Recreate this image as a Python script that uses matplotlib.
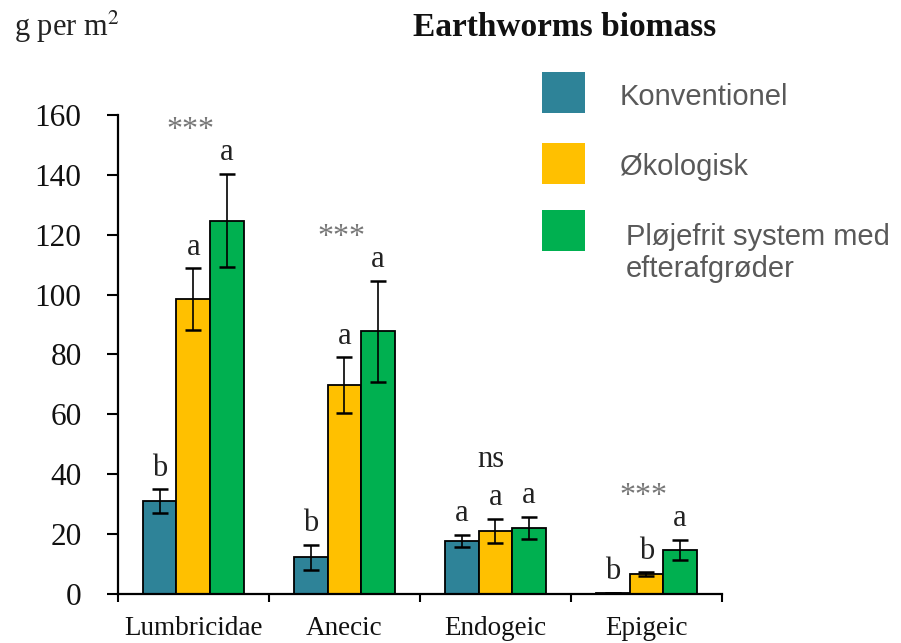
import numpy as np
import matplotlib.pyplot as plt
from matplotlib.patches import Rectangle

CATEGORIES = ['Lumbricidae', 'Anecic', 'Endogeic', 'Epigeic']
SERIES = ['Konventionel', 'Økologisk', 'Pløjefrit system med\nefterafgrøder']
COLORS = ['#2E8398', '#FFC000', '#00B050']

KONV = [31.0, 12.3, 17.8, 0.4]
KONV_ERR = [4.0, 4.2, 2.0, 0.0]
OKO = [98.5, 69.8, 21.1, 6.6]
OKO_ERR = [10.3, 9.2, 4.1, 0.7]
PLO = [124.7, 87.8, 22.1, 14.7]
PLO_ERR = [15.6, 16.9, 3.7, 3.4]

KONV_LETTERS = ['b', 'b', 'a', 'b']
OKO_LETTERS = ['a', 'a', 'a', 'b']
PLO_LETTERS = ['a', 'a', 'a', 'a']
SIGNIF = ['***', '***', 'ns', '***']

YTICKS = [0, 20, 40, 60, 80, 100, 120, 140, 160]

SERIF = ['Liberation Serif', 'DejaVu Serif']
SANS = ['Liberation Sans', 'DejaVu Sans']

values = [KONV, OKO, PLO]
errors = [KONV_ERR, OKO_ERR, PLO_ERR]
letters = [KONV_LETTERS, OKO_LETTERS, PLO_LETTERS]

fig = plt.figure(figsize=(9.01, 6.43), dpi=100)
ax = fig.add_axes([0.1306, 0.0762, 0.6707, 0.745])

x = np.arange(len(CATEGORIES))
w = 0.222
offsets = [-w, 0, w]

for vals, errs, labs, col, off in zip(values, errors, letters, COLORS, offsets):
    ax.bar(x + off, vals, w, color=col, edgecolor='black', linewidth=1.3, zorder=2)
    ax.errorbar(x + off, vals, yerr=errs, fmt='none', ecolor='black',
                elinewidth=1.2, capsize=5.5, capthick=1.8, zorder=3)
    for xi, v, e, lab in zip(x + off, vals, errs, labs):
        ax.text(xi, v + e + 4.5, lab, ha='center', va='baseline',
                fontsize=22, family=SERIF, color='#222222')

tops = np.max([np.array(v) + np.array(e) for v, e in zip(values, errors)], axis=0)
for xi, t, s in zip(x, tops, SIGNIF):
    if s == 'ns':
        ax.text(xi - 0.03, t + 16.5, s, ha='center', va='baseline',
                fontsize=22, family=SERIF, color='#222222')
    else:
        ax.text(xi - 0.02, t + 12, s, ha='center', va='baseline',
                fontsize=23, family=SERIF, color='#777777')

ax.set_xlim(-0.5, 3.5)
ax.set_ylim(0, 160)
ax.set_yticks(YTICKS)
ax.set_yticklabels([str(v) for v in YTICKS], family=SERIF, fontsize=22.5, color='#111111')
ax.set_xticks(np.arange(-0.5, 4.0, 1.0))
ax.set_xticklabels([])
ax.set_xticks(x, minor=True)
ax.set_xticklabels(CATEGORIES, minor=True, family=SERIF, fontsize=19.5, color='#111111')
ax.tick_params(axis='x', which='minor', length=0, pad=16)
ax.tick_params(axis='x', which='major', length=6, width=1.5, direction='out')
ax.tick_params(axis='y', length=8, width=1.5, direction='out', pad=18)
for side in ['top', 'right']:
    ax.spines[side].set_visible(False)
for side in ['left', 'bottom']:
    ax.spines[side].set_linewidth(1.6)

fig.text(0.015, 0.958, 'g per m$^2$', family=SERIF, fontsize=22, va='center', ha='left',
         color='#222222', math_fontfamily='stix')
fig.text(0.627, 0.958, 'Earthworms biomass', family=SERIF, fontsize=24, fontweight='bold',
         va='center', ha='center', color='#111111')

# legend: squares and labels in figure pixels
sq_y = [72, 143, 210]
txt_y = [97, 167, 253]
txt_x = [620, 620, 626]
for col, lab, sy, ty, tx in zip(COLORS, SERIES, sq_y, txt_y, txt_x):
    fig.patches.append(Rectangle((542 / 901, 1 - (sy + 41) / 643), 43 / 901, 41 / 643,
                                 transform=fig.transFigure, facecolor=col,
                                 edgecolor='none'))
    fig.text(tx / 901, 1 - ty / 643, lab, family=SANS, fontsize=21, color='#595959',
             va='center', ha='left', linespacing=1.15)

fig.savefig('out.png', dpi=100)
